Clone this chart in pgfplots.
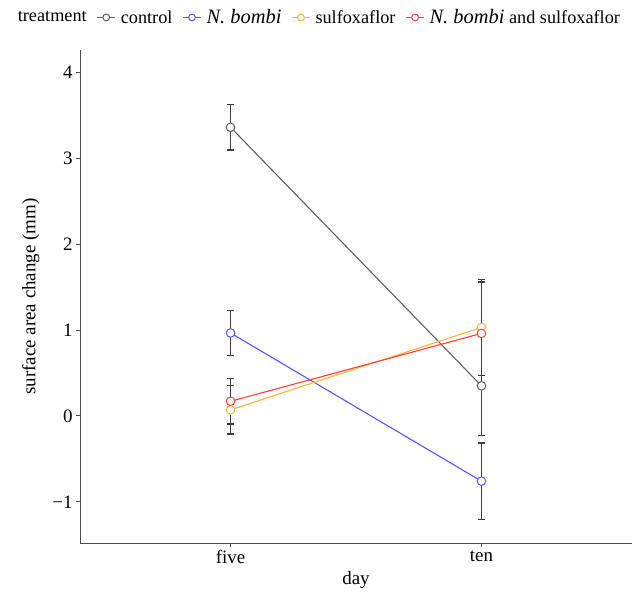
\documentclass[border=0pt]{standalone}
\usepackage{fontspec}
\setmainfont{Liberation Serif}
\usepackage{pgfplots}
\pgfplotsset{compat=1.18}
\definecolor{ctrl}{RGB}{95,95,95}
\definecolor{nbombi}{RGB}{85,85,255}
\definecolor{sulfo}{RGB}{255,180,50}
\definecolor{both}{RGB}{255,60,60}
\definecolor{errc}{RGB}{60,60,60}
\newcommand{\nb}{{\fontsize{20.5}{22}\selectfont\itshape N. bombi}}
\pgfplotsset{
  errs/.style={forget plot, only marks, mark=none,
    error bars/.cd, y dir=both, y explicit,
    error bar style={errc, line width=1.3bp},
    error mark options={errc, line width=1.3bp, mark size=3.5bp, rotate=90}},
  series/.style={#1, line width=1.1bp, mark=*, mark size=4.3bp,
    mark options={fill=white, line width=1bp, solid}},
}
\begin{document}
\begin{tikzpicture}
\begin{axis}[
  scale only axis, width=552bp, height=493bp,
  at={(0,0)}, anchor=south west,
  xmin=0.4, xmax=2.6, ymin=-1.48, ymax=4.26,
  axis lines=left,
  axis line style={-, black!70, line width=0.8bp},
  xtick={1,2}, xticklabels={five,ten},
  ytick={-1,0,1,2,3,4}, yticklabels={−1,0,1,2,3,4},
  tick align=outside, major tick length=4bp,
  tick style={black!70, line width=0.8bp},
  ticklabel style={font=\fontsize{19}{21}\selectfont},
  label style={font=\fontsize{19}{21}\selectfont},
  xlabel={day}, ylabel={surface area change (mm)},
  ylabel style={yshift=6bp},
  legend columns=-1,
  legend style={at={(-0.122,1.066)}, anchor=west, draw=none, fill=none,
    font=\fontsize{18.3}{20}\selectfont, inner xsep=0pt,
    nodes={inner xsep=1bp},
    /tikz/every odd column/.append style={column sep=4bp},
    /tikz/every even column/.append style={column sep=9bp}},
  legend image code/.code={
    \draw[#1, mark size=3.4bp, mark repeat=2, mark phase=2]
      plot coordinates {(0bp,0bp) (9bp,0bp) (18bp,0bp)};},
]
% error bars first so the open circles sit on top
\addplot+[errs] coordinates {(1,3.36) +- (0,0.265) (2,0.35) +- (0,0.58)};
\addplot+[errs] coordinates {(1,0.965) +- (0,0.265) (2,-0.76) +- (0,0.445)};
\addplot+[errs] coordinates {(1,0.07) +- (0,0.28) (2,1.03) +- (0,0.56)};
\addplot+[errs] coordinates {(1,0.17) +- (0,0.265) (2,0.96) +- (0,0.60)};

\addlegendimage{empty legend}
\addlegendentry{treatment}
\addplot[series=ctrl] coordinates {(1,3.36) (2,0.35)};
\addlegendentry{control}
\addplot[series=nbombi] coordinates {(1,0.965) (2,-0.76)};
\addlegendentry{\nb}
\addplot[series=sulfo] coordinates {(1,0.07) (2,1.03)};
\addlegendentry{sulfoxaflor}
\addplot[series=both] coordinates {(1,0.17) (2,0.96)};
\addlegendentry{\nb{} and sulfoxaflor}
\end{axis}
\useasboundingbox (-80bp,-50bp) rectangle (562bp,543bp);
\end{tikzpicture}
\end{document}
